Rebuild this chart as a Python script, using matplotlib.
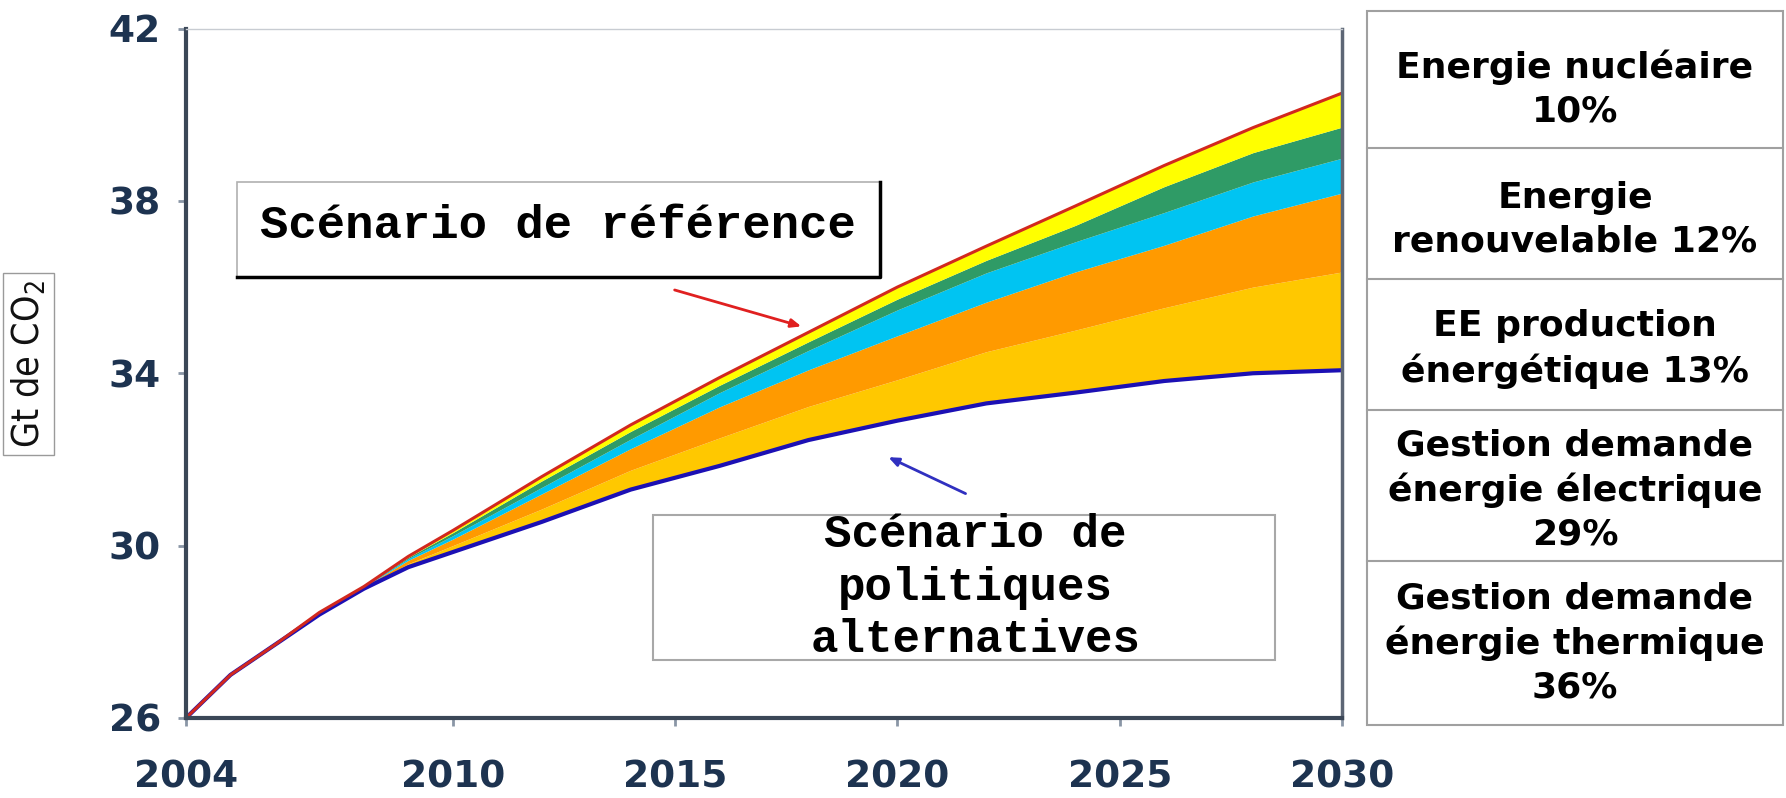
import numpy as np
import matplotlib
matplotlib.use("Agg")
import matplotlib.pyplot as plt
from matplotlib.patches import Rectangle
from matplotlib.lines import Line2D
from matplotlib import font_manager

# (Gt CO2)
years = [2004, 2005, 2006, 2007, 2008, 2009, 2010, 2012, 2014, 2016,
         2018, 2020, 2022, 2024, 2026, 2028, 2030]
reference = [26.0, 27.0, 27.7, 28.45, 29.05, 29.75, 30.35, 31.6, 32.8, 33.9,
             34.95, 36.0, 36.95, 37.88, 38.82, 39.7, 40.5]

# reductions per measure, stacked from the alternative line upward
thermique = [0, 0, 0, 0.02, 0.02, 0.08, 0.15, 0.30, 0.45, 0.65,
             0.78, 0.95, 1.20, 1.45, 1.70, 2.00, 2.28]
electrique = [0, 0, 0, 0.02, 0.02, 0.08, 0.15, 0.35, 0.50, 0.72,
              0.85, 1.02, 1.15, 1.35, 1.45, 1.65, 1.83]
production = [0, 0, 0, 0.01, 0.01, 0.04, 0.08, 0.15, 0.22, 0.33,
              0.45, 0.60, 0.68, 0.70, 0.76, 0.79, 0.81]
renouvelable = [0, 0, 0, 0, 0, 0.03, 0.07, 0.15, 0.18, 0.17,
                0.20, 0.25, 0.29, 0.38, 0.60, 0.68, 0.72]
nucleaire = [0, 0, 0, 0, 0, 0.02, 0.05, 0.10, 0.15, 0.18,
             0.22, 0.28, 0.33, 0.45, 0.49, 0.58, 0.79]

band_colors = ["#ffc800", "#ff9a00", "#00c4f2", "#2f9b66", "#ffff00"]

legend_rows = ["Energie nucléaire\n10%",
               "Energie\nrenouvelable 12%",
               "EE production\nénergétique 13%",
               "Gestion demande\nénergie électrique\n29%",
               "Gestion demande\nénergie thermique\n36%"]

xticks = [2004, 2010, 2015, 2020, 2025, 2030]
yticks = [26, 30, 34, 38, 42]

names = {f.name for f in font_manager.fontManager.ttflist}
if "Liberation Sans Narrow" in names:
    ylab_font = dict(family="Liberation Sans Narrow")
else:
    ylab_font = dict(family="DejaVu Sans", stretch="condensed")

W, H = 1786, 798
fig = plt.figure(figsize=(W / 100, H / 100), dpi=100)
fig.patch.set_facecolor("white")
ax = fig.add_axes([186 / W, 1 - 718 / H, (1342 - 186) / W, (718 - 28.5) / H])

x = np.array(years, dtype=float)
ref = np.array(reference)
stack = np.array([thermique, electrique, production, renouvelable, nucleaire])
alt = ref - stack.sum(axis=0)

lower = alt.copy()
for vals, col in zip(stack, band_colors):
    upper = lower + vals
    ax.fill_between(x, lower, upper, color=col, lw=0)
    lower = upper

ax.plot(x, alt, color="#1c10b4", lw=3.0, solid_capstyle="butt")
ax.plot(x, ref, color="#d2281e", lw=2.2, solid_capstyle="butt")

ax.set_xlim(2004, 2030)
ax.set_ylim(26, 42)
ax.set_xticks(xticks)
ax.set_yticks(yticks)
ax.tick_params(axis="both", direction="out", length=6, width=2, color="#8a96a6",
               labelcolor="#1d3350")
ax.tick_params(axis="x", pad=24)
ax.tick_params(axis="y", pad=12)
for lab in ax.get_xticklabels() + ax.get_yticklabels():
    lab.set_fontsize(27)
    lab.set_fontweight("heavy")

for side in ["left", "bottom"]:
    ax.spines[side].set_color("#3b4757")
    ax.spines[side].set_linewidth(3)
ax.spines["right"].set_color("#5d6675")
ax.spines["right"].set_linewidth(2.5)
ax.spines["top"].set_color("#c8ccd2")
ax.spines["top"].set_linewidth(1)

# y label in a box
fig.text(28.5 / W, 1 - 364 / H, "Gt de CO$_\\mathregular{2}$", rotation=90,
         ha="center", va="center", fontsize=27, color="#111111",
         bbox=dict(boxstyle="square,pad=0.18", fc="white", ec="#9a9a9a", lw=1),
         **ylab_font)

# "Scénario de référence" box with shadow edges
b1 = (0.044, 0.640, 0.556, 0.137)
ax.add_patch(Rectangle((b1[0], b1[1]), b1[2], b1[3], transform=ax.transAxes,
                       fc="white", ec="#b0b0b0", lw=1.2, zorder=5))
ax.add_line(Line2D([b1[0], b1[0] + b1[2], b1[0] + b1[2]],
                   [b1[1], b1[1], b1[1] + b1[3]], transform=ax.transAxes,
                   color="black", lw=2.5, zorder=6))
ax.text(b1[0] + b1[2] / 2, b1[1] + b1[3] / 2 + 0.005, "Scénario de référence",
        transform=ax.transAxes, ha="center", va="center", fontsize=34,
        family="Liberation Mono", fontweight="bold", zorder=7)

# "Scénario de politiques alternatives" box
b2 = (0.404, 0.084, 0.538, 0.210)
ax.add_patch(Rectangle((b2[0], b2[1]), b2[2], b2[3], transform=ax.transAxes,
                       fc="white", ec="#a8a8a8", lw=1.5, zorder=5))
ax.text(0.683, b2[1] + b2[3] / 2, "Scénario de\npolitiques\nalternatives",
        transform=ax.transAxes, ha="center", va="center", fontsize=33,
        family="Liberation Mono", fontweight="bold", linespacing=1.25, zorder=7)

# arrows
ax.annotate("", xy=(2017.9, 35.07), xytext=(2014.93, 35.95),
            arrowprops=dict(arrowstyle="-|>,head_length=0.6,head_width=0.25",
                            color="#e02020", lw=2), zorder=8)
ax.annotate("", xy=(2019.74, 32.08), xytext=(2021.59, 31.18),
            arrowprops=dict(arrowstyle="-|>,head_length=0.6,head_width=0.25",
                            color="#3030c0", lw=2), zorder=8)

# legend table on the right
tx0, tx1 = 1367, 1783
bounds = [11, 148, 279, 410, 561, 725]
fig.patches.append(Rectangle((tx0 / W, 1 - bounds[-1] / H), (tx1 - tx0) / W,
                             (bounds[-1] - bounds[0]) / H, transform=fig.transFigure,
                             fc="white", ec="#a0a0a0", lw=1.5))
for yb in bounds[1:-1]:
    fig.lines.append(Line2D([tx0 / W, tx1 / W], [1 - yb / H, 1 - yb / H],
                            transform=fig.transFigure, color="#a0a0a0", lw=1.5))
centers = [89, 220, 349, 490, 643]
for txt, yc in zip(legend_rows, centers):
    fig.text((tx0 + tx1) / 2 / W, 1 - yc / H, txt, ha="center", va="center",
             fontsize=26, fontweight="bold", color="black", linespacing=1.35)

fig.savefig("out.png", dpi=100, facecolor="white")
